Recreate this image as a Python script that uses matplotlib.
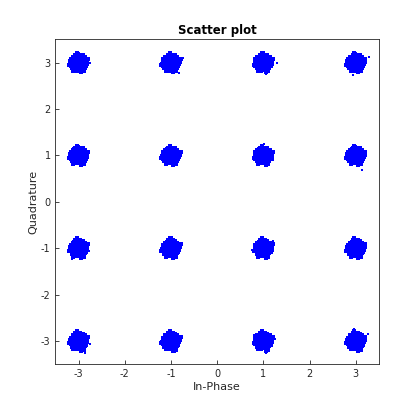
import matplotlib
matplotlib.use('Agg')
import matplotlib.pyplot as plt

plt.rcParams['axes.unicode_minus'] = False

# 16-QAM constellation points
levels = [-3, -1, 1, 3]

# spread of received samples around each constellation point
cluster_shape = [
    (-0.07, 0.17), (-0.02, 0.18), (0.04, 0.17), (0.09, 0.16),
    (-0.13, 0.12), (-0.09, 0.13), (-0.04, 0.12), (0.01, 0.12), (0.06, 0.13), (0.11, 0.11), (0.14, 0.12),
    (-0.17, 0.07), (-0.12, 0.08), (-0.07, 0.07), (-0.02, 0.07), (0.03, 0.08), (0.08, 0.07), (0.13, 0.06), (0.17, 0.07),
    (-0.18, 0.03), (-0.14, 0.03), (-0.09, 0.04), (-0.04, 0.03), (0.01, 0.03), (0.06, 0.02), (0.11, 0.03), (0.15, 0.04), (0.19, 0.02),
    (-0.19, -0.02), (-0.15, -0.02), (-0.10, -0.01), (-0.05, -0.02), (0.00, -0.02), (0.05, -0.03), (0.10, -0.02), (0.15, -0.01), (0.18, -0.03),
    (-0.17, -0.07), (-0.13, -0.07), (-0.08, -0.06), (-0.03, -0.07), (0.02, -0.08), (0.07, -0.07), (0.12, -0.06), (0.16, -0.08),
    (-0.14, -0.12), (-0.10, -0.12), (-0.05, -0.13), (0.00, -0.12), (0.05, -0.12), (0.10, -0.13), (0.13, -0.11),
    (-0.09, -0.16), (-0.04, -0.17), (0.02, -0.16), (0.07, -0.15),
    (-0.03, 0.21), (0.11, -0.19), (-0.11, -0.18), (0.21, 0.08), (-0.21, -0.05), (0.05, -0.21),
]

# stray samples
stray_i = [-2.76, -0.74, -1.02, -0.83, 1.02, 1.29, 1.05, 3.29, 2.94, 3.14, 1.02, 1.21, -0.79,
           -0.75, -0.97, -2.78, -3.14, -2.86, -2.76, -0.91, -1.23, 1.21, 0.76, 1.26, 0.80, 1.05, 3.27, 2.97]
stray_q = [3.00, 3.09, 3.20, 2.78, 3.23, 2.99, 2.75, 3.12, 2.73, 0.68, 1.24, 0.90, 1.10,
           -0.93, -0.76, -1.06, -1.24, -3.26, -3.07, -3.23, -3.05, -0.84, -1.04, -2.95, -2.87, -3.25, -2.84, -2.75]

in_phase = []
quadrature = []
for i in levels:
    for q in levels:
        for dx, dy in cluster_shape:
            in_phase.append(i + dx)
            quadrature.append(q + dy)

fig = plt.figure(figsize=(4.2, 4.2), dpi=100)
ax = fig.add_axes([0.132, 0.133, 0.770, 0.773])
ax.plot(in_phase, quadrature, 's', color='#0000ff', markersize=2.7, markeredgewidth=0)
ax.plot(stray_i, stray_q, 's', color='#0000ff', markersize=1.9, markeredgewidth=0)

ax.set_xlim(-3.5, 3.5)
ax.set_ylim(-3.5, 3.5)
ax.set_xticks(range(-3, 4))
ax.set_yticks(range(-3, 4))
ax.tick_params(direction='in', length=3, labelsize=7, colors='#262626', width=0.6)
for side in ax.spines.values():
    side.set_linewidth(0.6)
    side.set_color('#262626')
ax.set_xlabel('In-Phase', fontsize=8, color='#262626', labelpad=2)
ax.set_ylabel('Quadrature', fontsize=8, color='#262626', labelpad=2)
ax.set_title('Scatter plot', fontsize=8.5, fontweight='bold', pad=4)

fig.savefig('out.png')
